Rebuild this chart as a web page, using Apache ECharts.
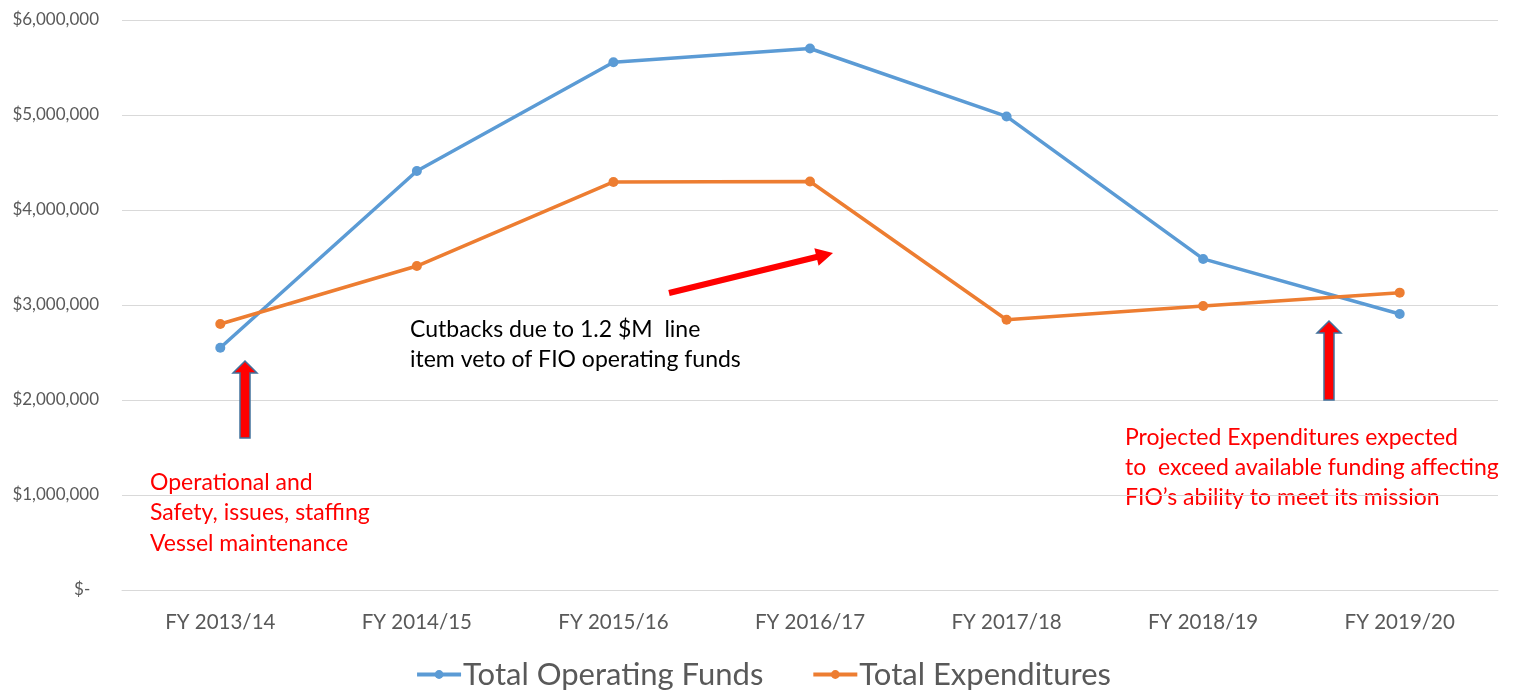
<!DOCTYPE html>
<html>
<head>
<meta charset="utf-8">
<script src="https://cdn.jsdelivr.net/npm/echarts@6/dist/echarts.min.js"></script>
<style>
  html, body { margin: 0; padding: 0; background: #fff; }
  #chart { width: 1526px; height: 695px; }
</style>
</head>
<body>
<div id="chart"></div>
<script>
// chart data
const years = ['FY 2013/14', 'FY 2014/15', 'FY 2015/16', 'FY 2016/17', 'FY 2017/18', 'FY 2018/19', 'FY 2019/20']
const operatingFunds = [2550000, 4410000, 5555000, 5700000, 4985000, 3485000, 2905000]
const expenditures = [2800000, 3410000, 4295000, 4300000, 2845000, 2990000, 3130000]
const yTicks = [0, 1000000, 2000000, 3000000, 4000000, 5000000, 6000000]

const font = 'Lato, "Open Sans", sans-serif'

function money(v) {
  if (v === 0) return '$-  '
  return '$' + v.toLocaleString('en-US')
}

// upward block arrow (tip at x,y)
function upArrow(x, top, bottom) {
  return {
    type: 'polygon',
    shape: {
      points: [
        [x, top], [x + 12, top + 12], [x + 5, top + 12], [x + 5, bottom],
        [x - 5, bottom], [x - 5, top + 12], [x - 12, top + 12]
      ]
    },
    style: { fill: '#ff0000', stroke: '#41719c', lineWidth: 1.5 },
    z: 10
  }
}

// thin arrow from (x1,y1) to (x2,y2)
function lineArrow(x1, y1, x2, y2) {
  const dx = x2 - x1, dy = y2 - y1
  const len = Math.sqrt(dx * dx + dy * dy)
  const ux = dx / len, uy = dy / len
  const nx = -uy, ny = ux
  const hl = 17, hw = 9, sw = 3
  const bx = x2 - ux * hl, by = y2 - uy * hl
  return {
    type: 'polygon',
    shape: {
      points: [
        [x1 + nx * sw, y1 + ny * sw], [bx + nx * sw, by + ny * sw], [bx + nx * hw, by + ny * hw],
        [x2, y2],
        [bx - nx * hw, by - ny * hw], [bx - nx * sw, by - ny * sw], [x1 - nx * sw, y1 - ny * sw]
      ]
    },
    style: { fill: '#ff0000' },
    z: 10
  }
}

const chart = echarts.init(document.getElementById('chart'))
chart.setOption({
  animation: false,
  textStyle: { fontFamily: font },
  grid: { left: 122, right: 28, top: 20, bottom: 105 },
  legend: {
    bottom: 0,
    left: 'center',
    itemWidth: 44,
    itemHeight: 11,
    itemGap: 48,
    lineStyle: { width: 4 },
    textStyle: { fontSize: 31, color: '#595959', fontFamily: font, padding: [0, 0, 0, -3] },
    data: ['Total Operating Funds', 'Total Expenditures']
  },
  xAxis: {
    type: 'category',
    data: years,
    axisLine: { lineStyle: { color: '#d9d9d9', width: 1 } },
    axisTick: { show: false },
    axisLabel: { fontSize: 20.5, color: '#595959', margin: 22 }
  },
  yAxis: {
    type: 'value',
    min: 0,
    max: 6000000,
    interval: 1000000,
    axisLine: { show: false },
    axisTick: { show: false },
    splitLine: { lineStyle: { color: '#d9d9d9', width: 1 } },
    axisLabel: {
      fontSize: 17,
      color: '#595959',
      margin: 23,
      formatter: v => yTicks.includes(v) ? money(v) : ''
    }
  },
  series: [
    {
      name: 'Total Operating Funds',
      type: 'line',
      data: operatingFunds,
      symbol: 'circle',
      symbolSize: 10,
      itemStyle: { color: '#5b9bd5' },
      lineStyle: { color: '#5b9bd5', width: 3.5 }
    },
    {
      name: 'Total Expenditures',
      type: 'line',
      data: expenditures,
      symbol: 'circle',
      symbolSize: 10,
      itemStyle: { color: '#ed7d31' },
      lineStyle: { color: '#ed7d31', width: 3.5 }
    }
  ],
  graphic: [
    upArrow(245, 361, 438),
    upArrow(1329, 321, 400),
    lineArrow(669, 293, 833, 253),
    {
      type: 'text',
      left: 410,
      top: 315,
      style: {
        text: 'Cutbacks due to 1.2 $M  line\nitem veto of FIO operating funds',
        font: '23px ' + font,
        fill: '#000',
        lineHeight: 30
      }
    },
    {
      type: 'text',
      left: 150,
      top: 467,
      style: {
        text: 'Operational and\nSafety, issues, staffing\nVessel maintenance',
        font: '23px ' + font,
        fill: '#ff0000',
        lineHeight: 30.5
      }
    },
    {
      type: 'text',
      left: 1125,
      top: 423,
      style: {
        text: 'Projected Expenditures expected\nto  exceed available funding affecting\nFIO\u2019s ability to meet its mission',
        font: '23px ' + font,
        fill: '#ff0000',
        lineHeight: 30
      }
    }
  ]
})
</script>
</body>
</html>
